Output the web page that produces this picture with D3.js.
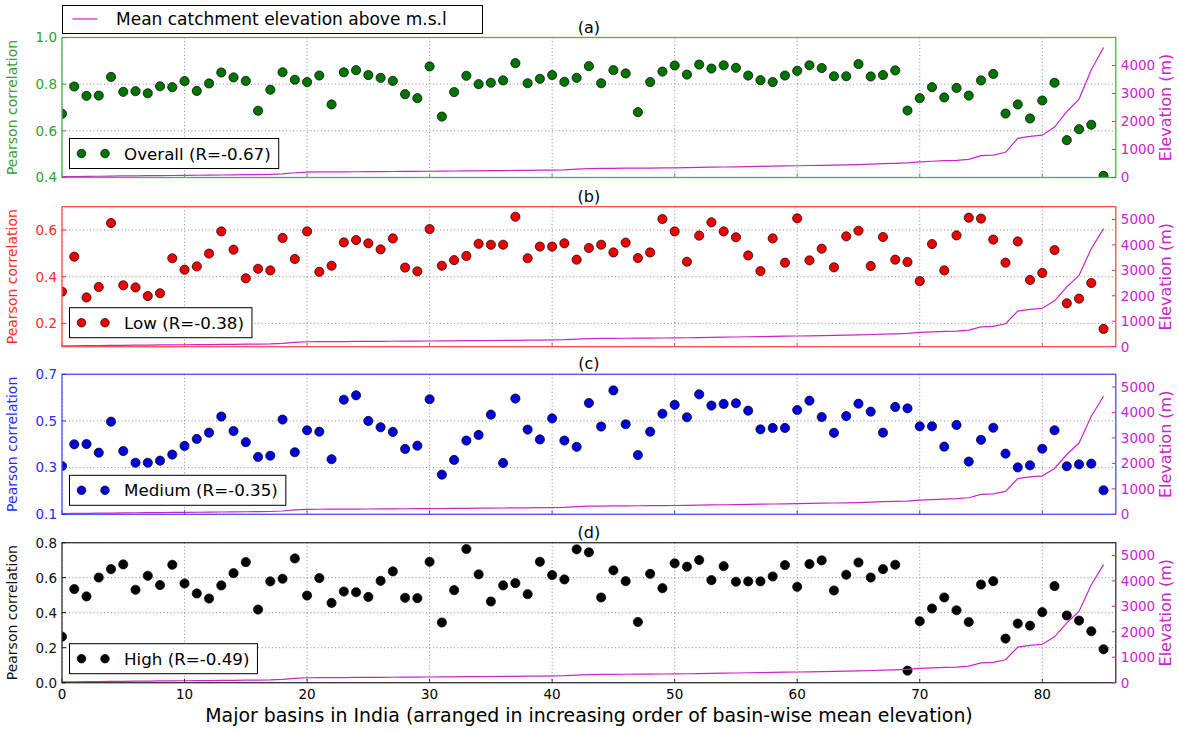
<!DOCTYPE html>
<html>
<head lang="en">
    <meta charset="UTF-8">
    <title></title>
    <style>
        body { margin: 0; background: #fff; }
        svg { display: block; font-family: "DejaVu Sans", sans-serif; }
    </style>
    <script src="https://cdnjs.cloudflare.com/ajax/libs/d3/7.8.5/d3.min.js"></script>
</head>
<body>
<svg id="chart" width="1178" height="730"></svg>
<script>

    // pearson correlation per basin, basins ordered by mean elevation
    var overallCorr = [0.673, 0.79, 0.75, 0.751, 0.831, 0.767, 0.77, 0.761, 0.791, 0.787,
        0.813, 0.771, 0.803, 0.85, 0.829, 0.814, 0.686, 0.776, 0.851, 0.819,
        0.809, 0.837, 0.713, 0.851, 0.86, 0.839, 0.827, 0.814, 0.757, 0.74,
        0.876, 0.661, 0.766, 0.836, 0.80, 0.806, 0.816, 0.89, 0.804, 0.823,
        0.839, 0.81, 0.827, 0.877, 0.804, 0.86, 0.846, 0.68, 0.809, 0.854,
        0.88, 0.841, 0.884, 0.867, 0.881, 0.87, 0.837, 0.817, 0.809, 0.837,
        0.857, 0.881, 0.869, 0.834, 0.834, 0.886, 0.833, 0.839, 0.859, 0.687,
        0.74, 0.787, 0.743, 0.784, 0.751, 0.816, 0.844, 0.674, 0.713, 0.653,
        0.73, 0.806, 0.56, 0.607, 0.626, 0.407];

    var lowCorr = [0.336, 0.486, 0.311, 0.356, 0.63, 0.363, 0.354, 0.317, 0.329, 0.479,
        0.43, 0.444, 0.499, 0.594, 0.516, 0.393, 0.434, 0.427, 0.566, 0.476,
        0.594, 0.421, 0.447, 0.547, 0.557, 0.543, 0.517, 0.564, 0.439, 0.423,
        0.604, 0.447, 0.471, 0.489, 0.541, 0.537, 0.537, 0.657, 0.479, 0.529,
        0.529, 0.543, 0.473, 0.523, 0.537, 0.504, 0.546, 0.48, 0.504, 0.647,
        0.594, 0.464, 0.576, 0.633, 0.594, 0.569, 0.491, 0.424, 0.564, 0.46,
        0.65, 0.47, 0.52, 0.44, 0.573, 0.597, 0.446, 0.57, 0.473, 0.463,
        0.381, 0.54, 0.427, 0.577, 0.653, 0.649, 0.559, 0.46, 0.551, 0.386,
        0.416, 0.514, 0.286, 0.306, 0.373, 0.176];

    var mediumCorr = [0.307, 0.40, 0.401, 0.364, 0.497, 0.371, 0.321, 0.321, 0.33, 0.356,
        0.393, 0.423, 0.45, 0.519, 0.457, 0.409, 0.346, 0.351, 0.506, 0.366,
        0.46, 0.454, 0.336, 0.591, 0.61, 0.50, 0.473, 0.453, 0.38, 0.394,
        0.593, 0.27, 0.333, 0.416, 0.44, 0.527, 0.32, 0.596, 0.463, 0.421,
        0.511, 0.416, 0.389, 0.577, 0.476, 0.631, 0.486, 0.354, 0.454, 0.531,
        0.569, 0.516, 0.614, 0.566, 0.573, 0.576, 0.544, 0.464, 0.47, 0.47,
        0.547, 0.587, 0.517, 0.449, 0.521, 0.574, 0.54, 0.45, 0.56, 0.554,
        0.477, 0.477, 0.39, 0.483, 0.326, 0.419, 0.471, 0.36, 0.301, 0.31,
        0.381, 0.46, 0.306, 0.314, 0.317, 0.203];

    var highCorr = [0.263, 0.535, 0.493, 0.601, 0.649, 0.676, 0.531, 0.611, 0.558, 0.674,
        0.567, 0.51, 0.481, 0.556, 0.626, 0.689, 0.418, 0.579, 0.594, 0.71,
        0.498, 0.598, 0.456, 0.521, 0.517, 0.49, 0.582, 0.636, 0.485, 0.483,
        0.691, 0.344, 0.529, 0.764, 0.619, 0.464, 0.556, 0.569, 0.506, 0.691,
        0.615, 0.59, 0.762, 0.745, 0.487, 0.642, 0.58, 0.347, 0.622, 0.54,
        0.682, 0.663, 0.701, 0.586, 0.666, 0.577, 0.579, 0.579, 0.607, 0.672,
        0.548, 0.678, 0.699, 0.527, 0.617, 0.687, 0.601, 0.649, 0.674, 0.069,
        0.351, 0.424, 0.487, 0.414, 0.347, 0.561, 0.58, 0.252, 0.338, 0.326,
        0.403, 0.552, 0.384, 0.355, 0.294, 0.191];

    // mean catchment elevation (m), same basin order
    var elevation = [30, 35, 40, 45, 50, 55, 60, 65, 68, 72,
        76, 80, 85, 90, 95, 100, 105, 110, 130, 170,
        195, 198, 200, 203, 206, 209, 212, 215, 218, 221,
        224, 228, 232, 236, 240, 244, 248, 252, 256, 260,
        265, 275, 300, 320, 325, 328, 332, 335, 338, 342,
        346, 352, 360, 368, 375, 382, 390, 398, 405, 412,
        420, 428, 436, 444, 452, 462, 480, 495, 505, 520,
        560, 580, 600, 615, 650, 780, 800, 900, 1400, 1470,
        1510, 1800, 2350, 2800, 3850, 4640];

    var panelTitles = ['(a)', '(b)', '(c)', '(d)'];
    var legendNames = ['Overall (R=-0.67)', 'Low (R=-0.38)', 'Medium (R=-0.35)', 'High (R=-0.49)'];
    var corrDomains = [[0.4, 1.0], [0.1, 0.7], [0.1, 0.7], [0.0, 0.8]];
    var corrTicks = [[0.4, 0.6, 0.8, 1.0], [0.2, 0.4, 0.6], [0.1, 0.3, 0.5, 0.7], [0.0, 0.2, 0.4, 0.6, 0.8]];
    var elevDomains = [[0, 5000], [0, 5500], [0, 5500], [0, 5500]];
    var elevTicks = [[0, 1000, 2000, 3000, 4000], [0, 1000, 2000, 3000, 4000, 5000],
        [0, 1000, 2000, 3000, 4000, 5000], [0, 1000, 2000, 3000, 4000, 5000]];
    var xTicks = [0, 10, 20, 30, 40, 50, 60, 70, 80];
    var xLabel = 'Major basins in India (arranged in increasing order of basin-wise mean elevation)';
    var topLegend = 'Mean catchment elevation above m.s.l';

    var series = [overallCorr, lowCorr, mediumCorr, highCorr];

    // styling
    var frameColors = ['#4fb04f', '#ff4d4d', '#4d4dff', '#333333'];
    var labelColors = ['#2f9f2f', '#ff2a2a', '#2a2aff', '#111111'];
    var dotColors = ['#007400', '#ee0000', '#0000dd', '#000000'];
    var magenta = '#cc22cc';

    var left = 62, right = 1115.8, panelH = 140;
    var tops = [37.5, 206.7, 374.3, 542.7];

    var svg = d3.select('#chart');

    var x = d3.scaleLinear().domain([0, 86]).range([left, right]);

    tops.forEach(function (top, p) {
        var y = d3.scaleLinear().domain(corrDomains[p]).range([top + panelH, top]);
        var yr = d3.scaleLinear().domain(elevDomains[p]).range([top + panelH, top]);
        var g = svg.append('g');

        var clipId = 'clip' + p;
        svg.append('clipPath').attr('id', clipId)
                .append('rect')
                .attr('x', left).attr('y', top)
                .attr('width', right - left).attr('height', panelH);

        // grid
        g.selectAll('line.vgrid').data(xTicks).enter().append('line')
                .attr('x1', function (d) { return x(d); })
                .attr('x2', function (d) { return x(d); })
                .attr('y1', top).attr('y2', top + panelH)
                .attr('stroke', '#808080').attr('stroke-width', 0.9)
                .attr('stroke-dasharray', '1,2.5');
        g.selectAll('line.hgrid').data(corrTicks[p]).enter().append('line')
                .attr('x1', left).attr('x2', right)
                .attr('y1', function (d) { return y(d); })
                .attr('y2', function (d) { return y(d); })
                .attr('stroke', '#808080').attr('stroke-width', 0.9)
                .attr('stroke-dasharray', '1,2.5');

        // points
        g.append('g').attr('clip-path', 'url(#' + clipId + ')')
                .selectAll('circle').data(series[p]).enter().append('circle')
                .attr('cx', function (d, i) { return x(i); })
                .attr('cy', function (d) { return y(d); })
                .attr('r', 4.6)
                .attr('fill', dotColors[p])
                .attr('stroke', '#000').attr('stroke-width', 0.7);

        // elevation line on the twin axis
        var line = d3.line()
                .x(function (d, i) { return x(i); })
                .y(function (d) { return yr(d); });
        g.append('path').datum(elevation)
                .attr('clip-path', 'url(#' + clipId + ')')
                .attr('d', line)
                .attr('fill', 'none')
                .attr('stroke', magenta).attr('stroke-width', 1.2);

        // frame
        g.append('rect')
                .attr('x', left).attr('y', top)
                .attr('width', right - left).attr('height', panelH)
                .attr('fill', 'none')
                .attr('stroke', frameColors[p]).attr('stroke-width', 1.3);

        // ticks (inward)
        g.selectAll('line.xt').data(xTicks).enter().append('line')
                .attr('x1', function (d) { return x(d); })
                .attr('x2', function (d) { return x(d); })
                .attr('y1', top + panelH).attr('y2', top + panelH - 4)
                .attr('stroke', frameColors[p]);
        g.selectAll('line.yt').data(corrTicks[p]).enter().append('line')
                .attr('x1', left).attr('x2', left + 4)
                .attr('y1', function (d) { return y(d); })
                .attr('y2', function (d) { return y(d); })
                .attr('stroke', labelColors[p]);
        g.selectAll('line.rt').data(elevTicks[p]).enter().append('line')
                .attr('x1', right).attr('x2', right - 4)
                .attr('y1', function (d) { return yr(d); })
                .attr('y2', function (d) { return yr(d); })
                .attr('stroke', magenta);

        // tick labels
        g.selectAll('text.yl').data(corrTicks[p]).enter().append('text')
                .attr('x', left - 5)
                .attr('y', function (d) { return y(d); })
                .attr('dy', '0.36em')
                .attr('text-anchor', 'end')
                .attr('font-size', 13.5)
                .attr('fill', labelColors[p])
                .text(function (d) { return d3.format('.1f')(d); });
        g.selectAll('text.rl').data(elevTicks[p]).enter().append('text')
                .attr('x', right + 5)
                .attr('y', function (d) { return yr(d); })
                .attr('dy', '0.36em')
                .attr('font-size', 13.5)
                .attr('fill', magenta)
                .text(function (d) { return d; });

        // axis labels
        g.append('text')
                .attr('transform', 'translate(17,' + (top + panelH / 2) + ') rotate(-90)')
                .attr('text-anchor', 'middle')
                .attr('font-size', 14)
                .attr('fill', labelColors[p])
                .text('Pearson correlation');
        g.append('text')
                .attr('transform', 'translate(1171,' + (top + panelH / 2) + ') rotate(-90)')
                .attr('text-anchor', 'middle')
                .attr('font-size', 16)
                .attr('fill', magenta)
                .text('Elevation (m)');

        // panel title
        g.append('text')
                .attr('x', (left + right) / 2).attr('y', top - 5)
                .attr('text-anchor', 'middle')
                .attr('font-size', 16)
                .attr('fill', '#000')
                .text(panelTitles[p]);

        // panel legend
        var lg = g.append('g');
        var box = lg.append('rect')
                .attr('x', 69.5).attr('y', top + panelH - 39)
                .attr('height', 30)
                .attr('fill', '#fff').attr('stroke', '#000').attr('stroke-width', 1);
        lg.selectAll('circle').data([81.5, 105]).enter().append('circle')
                .attr('cx', function (d) { return d; })
                .attr('cy', top + panelH - 24)
                .attr('r', 4.3)
                .attr('fill', dotColors[p])
                .attr('stroke', '#000').attr('stroke-width', 0.7);
        var lt = lg.append('text')
                .attr('x', 124).attr('y', top + panelH - 24)
                .attr('dy', '0.36em')
                .attr('font-size', 16.7)
                .attr('fill', '#000')
                .text(legendNames[p]);
        box.attr('width', 124 + lt.node().getComputedTextLength() + 8 - 69.5);

        if (p === 3) {
            g.selectAll('text.xl').data(xTicks).enter().append('text')
                    .attr('x', function (d) { return x(d); })
                    .attr('y', top + panelH + 16)
                    .attr('text-anchor', 'middle')
                    .attr('font-size', 13.5)
                    .attr('fill', '#000')
                    .text(function (d) { return d; });
        }
    });

    // x axis title
    var xt = svg.append('text')
            .attr('x', 589).attr('y', 722)
            .attr('text-anchor', 'middle')
            .attr('font-size', 18)
            .attr('fill', '#000')
            .text(xLabel);
    var w = xt.node().getComputedTextLength();
    xt.attr('font-size', 18 * 768 / w);

    // top legend for the elevation line
    svg.append('rect')
            .attr('x', 62.5).attr('y', 5.5)
            .attr('width', 420).attr('height', 28)
            .attr('fill', '#fff').attr('stroke', '#000').attr('stroke-width', 1);
    svg.append('line')
            .attr('x1', 72.5).attr('x2', 97.5)
            .attr('y1', 19).attr('y2', 19)
            .attr('stroke', magenta).attr('stroke-width', 1.2);
    svg.append('text')
            .attr('x', 116).attr('y', 19)
            .attr('dy', '0.36em')
            .attr('font-size', 17)
            .attr('fill', '#000')
            .text(topLegend);
</script>
</body>
</html>
